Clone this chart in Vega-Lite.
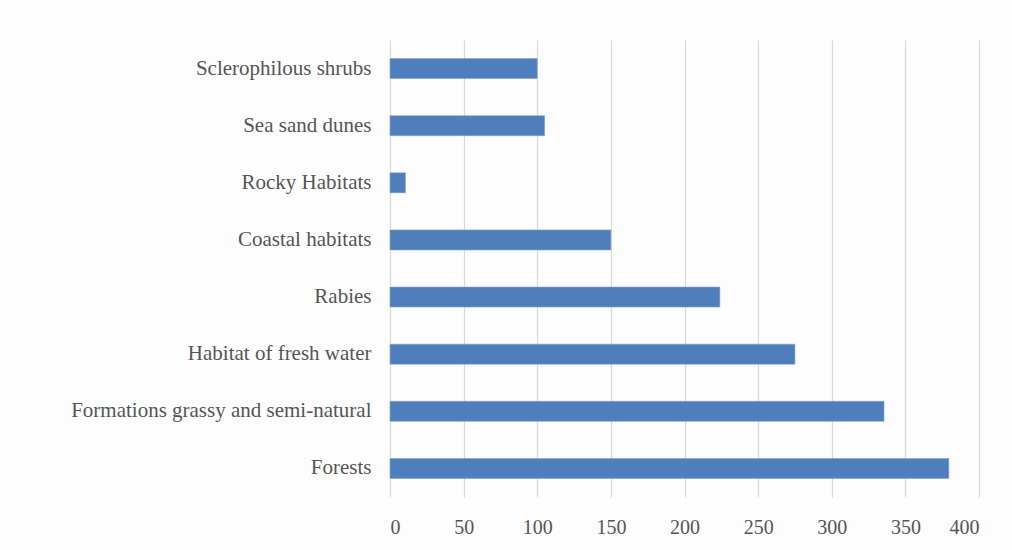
{
  "$schema": "https://vega.github.io/schema/vega-lite/v6.json",
  "width": 589,
  "height": 457,
  "autosize": {"type": "none"},
  "padding": {"left": 390, "top": 40, "right": 33, "bottom": 53},
  "background": "#fdfdfd",
  "data": {
    "values": [
      {"habitat": "Sclerophilous shrubs", "value": 100},
      {"habitat": "Sea sand dunes", "value": 105},
      {"habitat": "Rocky Habitats ", "value": 10.5},
      {"habitat": "Coastal habitats", "value": 150},
      {"habitat": "Rabies", "value": 224},
      {"habitat": "Habitat of fresh water", "value": 275},
      {"habitat": "Formations grassy and semi-natural", "value": 335.5},
      {"habitat": "Forests", "value": 379.5}
    ]
  },
  "mark": {"type": "bar", "color": "#4e7fbb", "stroke": "#7fa3d0", "strokeWidth": 0.6},
  "encoding": {
    "y": {
      "field": "habitat",
      "type": "nominal",
      "sort": null,
      "scale": {"paddingInner": 0.65, "paddingOuter": 0.325},
      "axis": {
        "title": null,
        "ticks": false,
        "domain": false,
        "labelFont": "Liberation Serif",
        "labelFontSize": 21,
        "labelColor": "#555555",
        "labelPadding": 19,
        "labelLimit": 400
      }
    },
    "x": {
      "field": "value",
      "type": "quantitative",
      "scale": {"domain": [0, 400], "nice": false},
      "axis": {
        "title": null,
        "values": [0, 50, 100, 150, 200, 250, 300, 350, 400],
        "ticks": false,
        "domain": false,
        "grid": true,
        "gridColor": "#d9d9d9",
        "gridWidth": 1.2,
        "labelFont": "Liberation Serif",
        "labelFontSize": 20,
        "labelColor": "#555555",
        "labelPadding": 20
      }
    }
  },
  "config": {"view": {"stroke": null}}
}
